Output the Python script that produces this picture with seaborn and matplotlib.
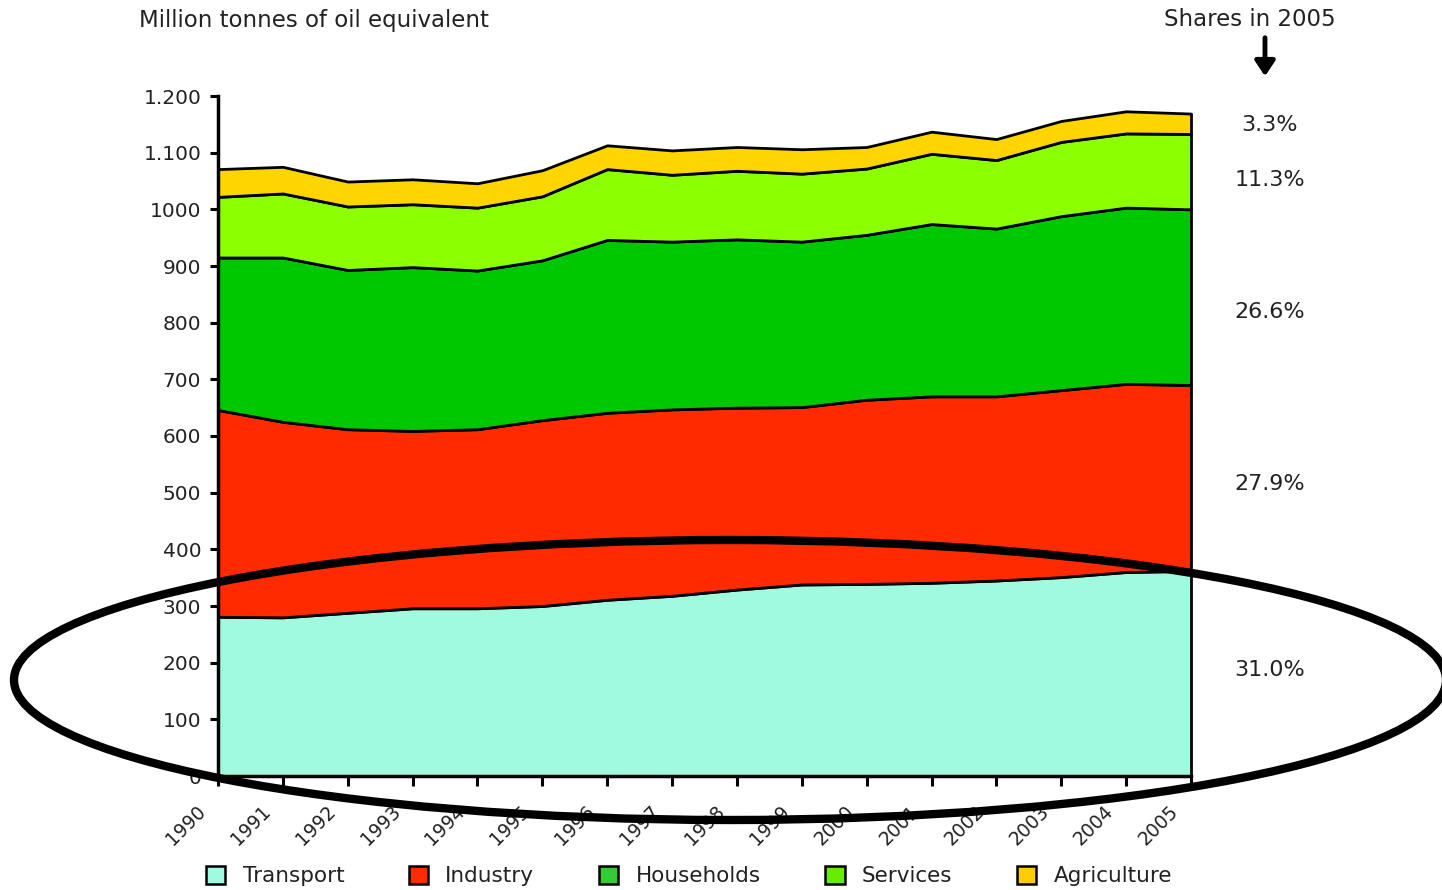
import matplotlib
matplotlib.use("Agg")
import matplotlib.pyplot as plt
import matplotlib.transforms as mtransforms
from matplotlib.patches import Patch, Ellipse, FancyArrowPatch
import seaborn as sns

# ---------------- data ----------------
years = list(range(1990, 2006))
transport = [281, 280, 288, 296, 296, 300, 311, 318, 329, 338, 339, 341, 345, 351, 360, 362]
industry = [365, 345, 324, 313, 316, 328, 330, 329, 321, 313, 325, 329, 325, 330, 332, 328]
households = [269, 290, 281, 289, 280, 282, 305, 296, 297, 292, 291, 304, 296, 307, 311, 310]
services = [107, 113, 112, 111, 111, 113, 125, 118, 121, 120, 117, 124, 121, 131, 131, 133]
agriculture = [49, 47, 44, 44, 43, 46, 42, 43, 42, 43, 38, 39, 37, 37, 39, 36]

series_names = ["Transport", "Industry", "Households", "Services", "Agriculture"]
shares_2005 = ["31.0%", "27.9%", "26.6%", "11.3%", "3.3%"]
y_ticks = [0, 100, 200, 300, 400, 500, 600, 700, 800, 900, 1000, 1100, 1200]
y_tick_labels = ["0", "100", "200", "300", "400", "500", "600", "700", "800",
                 "900", "1000", "1.100", "1.200"]
x_tick_labels = [str(y) for y in years]

# ---------------- style ----------------
area_colors = ["#9FFADF", "#FF2A00", "#00C800", "#8CFF00", "#FFD500"]
legend_colors = ["#9FFADF", "#FF2A00", "#33CC33", "#66EE00", "#FFCC00"]
share_label_y = [187, 515, 819, 1052, 1149]

sns.set_theme(style="white")
plt.rcParams["font.family"] = ["DejaVu Sans"]
TXT = "#222222"

fig = plt.figure(figsize=(14.42, 8.9), dpi=100)
ax = fig.add_axes([218 / 1442, 1 - 776 / 890, (1191 - 218) / 1442, (776 - 96) / 890])

polys = ax.stackplot(years, transport, industry, households, services, agriculture,
                     colors=area_colors, edgecolor="black", linewidth=2.0)
for p in polys:
    p.set_clip_on(False)

ax.set_xlim(1990, 2005)
ax.set_ylim(0, 1200)
ax.set_yticks(y_ticks)
ax.set_yticklabels(y_tick_labels)
ax.set_xticks(years)
ax.set_xticklabels([])

sns.despine(ax=ax, top=True, right=True)
for s in ["left", "bottom"]:
    ax.spines[s].set_color("black")
    ax.spines[s].set_linewidth(2.5)
    ax.spines[s].set_zorder(5)
ax.tick_params(axis="y", direction="out", length=6, width=2.2, color="black",
               labelsize=14.5, labelcolor=TXT, pad=6, left=True)
ax.tick_params(axis="x", direction="out", length=7, width=2.2, color="black",
               bottom=True)
ax.grid(False)

# rotated year labels (top-right corner placed just below-left of each tick)
offset = mtransforms.ScaledTranslation(-0.22, -0.26, fig.dpi_scale_trans)
for yr, lab in zip(years, x_tick_labels):
    ax.text(yr, 0, lab, transform=ax.get_xaxis_transform() + offset,
            rotation=45, rotation_mode="anchor", ha="right", va="top",
            fontsize=13.5, color=TXT, clip_on=False)

# share labels
for lab, yv in zip(shares_2005, share_label_y):
    ax.text(1.081, yv, lab, transform=ax.get_yaxis_transform(), ha="center",
            va="center", fontsize=16, color=TXT)

# titles
fig.text(139 / 1442, 1 - 20 / 890, "Million tonnes of oil equivalent", ha="left",
         va="center", fontsize=16.5, color=TXT)
fig.text(1250 / 1442, 1 - 20 / 890, "Shares in 2005", ha="center", va="center",
         fontsize=16.5, color=TXT)
fig.add_artist(FancyArrowPatch(
    (1265 / 1442, 1 - 35 / 890), (1265 / 1442, 1 - 79 / 890),
    transform=fig.transFigure, arrowstyle="-|>,head_length=6,head_width=4",
    mutation_scale=1.5, linewidth=3.5, color="black"))

# legend
handles = [Patch(facecolor=c, edgecolor="black", linewidth=1.8, label=n)
           for c, n in zip(legend_colors, series_names)]
fig.legend(handles=handles, loc="center", bbox_to_anchor=(689 / 1442, 1 - 876 / 890),
           ncol=5, frameon=False, fontsize=15.5, handlelength=0.9, handleheight=0.9,
           columnspacing=3.0, handletextpad=0.8, labelcolor=TXT)

# big ellipse
ell = Ellipse((730 / 1442, 1 - 680 / 890), 1432 / 1442, 280 / 890,
              transform=fig.transFigure, fill=False, edgecolor="black",
              linewidth=6.0, zorder=10, clip_on=False)
fig.add_artist(ell)

fig.savefig("out.png", dpi=100)
